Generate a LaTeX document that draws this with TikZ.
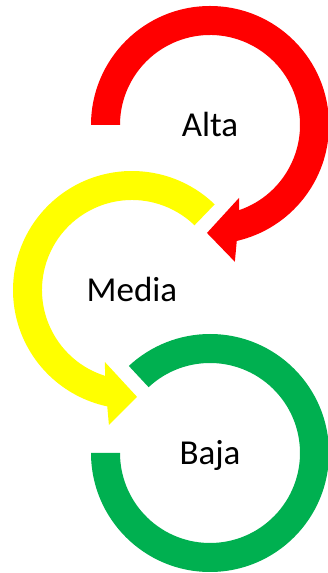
\documentclass[tikz,border=0pt]{standalone}
\usepackage{fontspec}
\setmainfont{Carlito}
\usepackage{tikz}
\usetikzlibrary{calc,positioning}
\definecolor{levelred}{RGB}{255,0,0}
\definecolor{levelyellow}{RGB}{255,255,0}
\definecolor{levelgreen}{RGB}{0,176,80}
\tikzset{
	level ring/.style={fill=#1, draw=none},
	level name/.style={font=\fontsize{35}{40}\selectfont, anchor=base, inner sep=0pt},
	ro/.store in=\ro, ro=119,
	ri/.store in=\ri, ri=90
}

\begin{document}
\begin{tikzpicture}[x=1pt, y=1pt]
   \useasboundingbox (0,0) rectangle (328,573);
   % centres of the three rings
   \coordinate (alta) at (210,448);
   \coordinate (media) at (132,283);
   \coordinate (baja) at (210,120);
   % red ring, clockwise, head towards the yellow one
   \fill[level ring=levelred] ($(alta)+(180:\ro)$)
      arc[start angle=180, end angle=-77, radius=\ro]
      -- ($(alta)+(-79.7:139)$) -- ($(alta)+(-91.6:108)$)
      -- ($(alta)+(-68.3:78.5)$) -- ($(alta)+(-71.2:\ri)$)
      arc[start angle=-71.2, end angle=180, radius=\ri] -- cycle;
   % yellow ring, anticlockwise, head towards the green one
   \fill[level ring=levelyellow] ($(media)+(46:\ro)$)
      arc[start angle=46, end angle=258, radius=\ro]
      -- ($(media)+(-99.7:137)$) -- ($(media)+(-87.3:107)$)
      -- ($(media)+(-110.6:77)$) -- ($(media)+(-107.4:\ri)$)
      arc[start angle=252.6, end angle=46, radius=\ri] -- cycle;
   % green ring, no head
   \fill[level ring=levelgreen] ($(baja)+(180:\ro)$)
      arc[start angle=180, end angle=493, radius=\ro]
      -- ($(baja)+(133:\ri)$)
      arc[start angle=493, end angle=180, radius=\ri] -- cycle;
   \node[level name] (altaText) at ($(alta)+(0,-12)$) {Alta};
   \node[level name] (mediaText) at ($(media)+(0,-12)$) {Media};
   \node[level name] (bajaText) at ($(baja)+(0,-12)$) {Baja};
\end{tikzpicture}
\end{document}
